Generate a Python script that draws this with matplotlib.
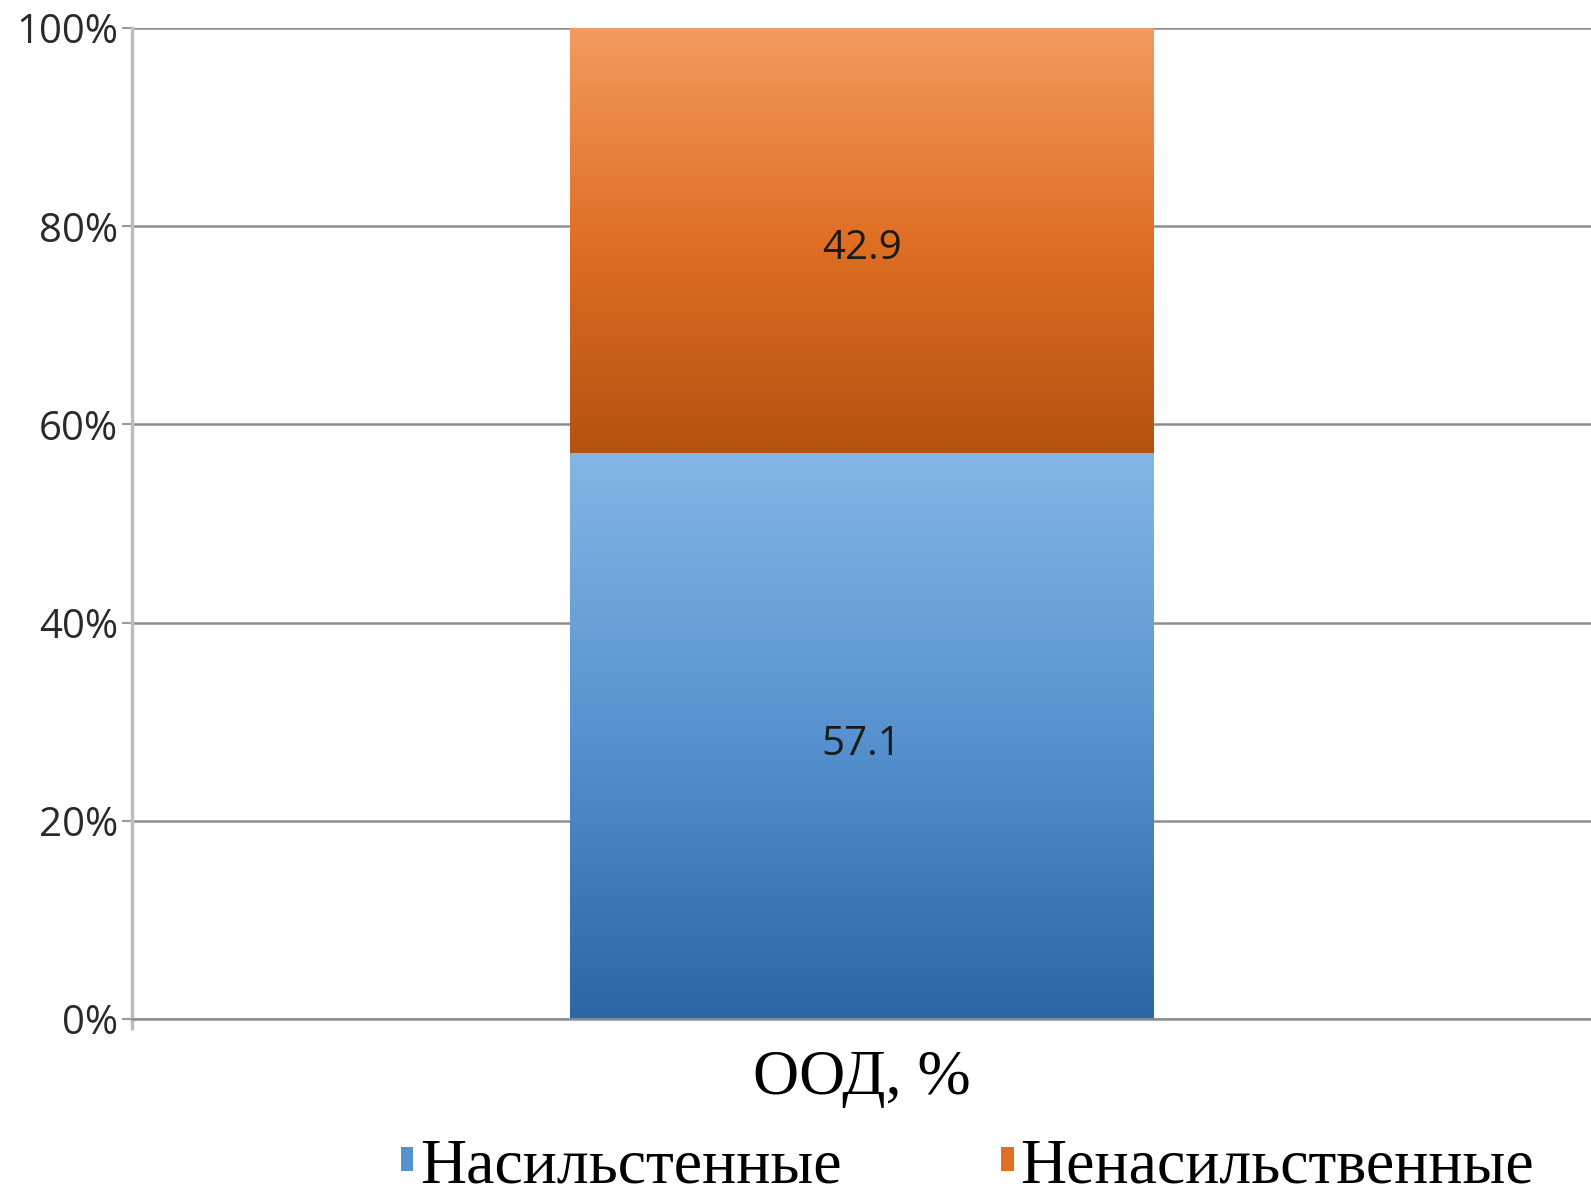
import matplotlib
matplotlib.use("Agg")
import matplotlib.pyplot as plt
import numpy as np
from matplotlib.colors import LinearSegmentedColormap
from matplotlib.patches import Patch

# data
category = ["ООД, %"]
series_names = ["Насильстенные", "Ненасильственные"]
violent = [57.1]
nonviolent = [42.9]

# gradient colours (top -> bottom of each bar segment)
blue_grad = ["#84B6E4", "#5692CF", "#2C66A5"]
orange_grad = ["#F29B5F", "#DF6F24", "#B5520F"]

fig = plt.figure(figsize=(15.91, 11.96), dpi=100)
ax = fig.add_axes([0.083, 0.148, 0.917, 0.8285])

x = np.arange(len(category))
tot = np.array(violent) + np.array(nonviolent)
v = np.array(violent) / tot
nv = np.array(nonviolent) / tot

b1 = ax.bar(x, v, width=0.4, color="none", edgecolor="none")
b2 = ax.bar(x, nv, width=0.4, bottom=v, color="none", edgecolor="none")

def fill_gradient(bars, cols):
    cmap = LinearSegmentedColormap.from_list("g", cols)
    grad = np.linspace(0, 1, 256).reshape(-1, 1)
    for p in bars:
        x0, y0 = p.get_x(), p.get_y()
        w, h = p.get_width(), p.get_height()
        im = ax.imshow(grad, cmap=cmap, aspect="auto", origin="upper",
                       extent=[x0, x0 + w, y0, y0 + h], zorder=2)
        im.set_clip_path(p)

fill_gradient(b1, blue_grad)
fill_gradient(b2, orange_grad)

# data labels
def label(bars, vals):
    for p, val in zip(bars, vals):
        ax.annotate(f"{val}", (p.get_x() + p.get_width() / 2, p.get_y() + p.get_height() / 2),
                    xytext=(0, -6), textcoords="offset points",
                    ha="center", va="center", fontsize=29, family="Open Sans",
                    color="#1a1a1a", zorder=3)

label(b1, violent)
label(b2, nonviolent)

ax.set_xlim(-0.5, 0.5)
ax.set_ylim(0, 1)

ax.set_yticks(np.arange(0, 1.01, 0.2))
ax.set_yticklabels([f"{int(round(t * 100))}%" for t in np.arange(0, 1.01, 0.2)],
                   fontsize=29, family="Open Sans", color="#2a2a2a")
ax.tick_params(axis="y", length=7, width=1.5, color="#9a9a9a", pad=3)

ax.set_xticks(x)
ax.set_xticklabels(category, fontsize=46, family="Liberation Serif")
ax.tick_params(axis="x", length=0, pad=22)
ax.set_xticks([-0.5], minor=True)
ax.tick_params(axis="x", which="minor", length=8, width=2.5, color="#bdbdbd")

ax.yaxis.grid(True, color="#8f8f8f", linewidth=1.8)
ax.set_axisbelow(True)

for s in ["top", "right"]:
    ax.spines[s].set_visible(False)
ax.spines["left"].set_color("#bdbdbd")
ax.spines["left"].set_linewidth(2.5)
ax.spines["bottom"].set_color("#8f8f8f")
ax.spines["bottom"].set_linewidth(1.8)

handles = [Patch(facecolor=blue_grad[1], edgecolor="none"),
           Patch(facecolor=orange_grad[1], edgecolor="none")]
fig.legend(handles, series_names, loc="center", bbox_to_anchor=(0.608, 0.024), ncol=2,
           frameon=False, prop={"family": "Liberation Serif", "size": 46},
           handlelength=0.2, handleheight=0.2, handletextpad=0.1, columnspacing=2.5,
           borderpad=0.1)

fig.savefig("out.png", dpi=100)
